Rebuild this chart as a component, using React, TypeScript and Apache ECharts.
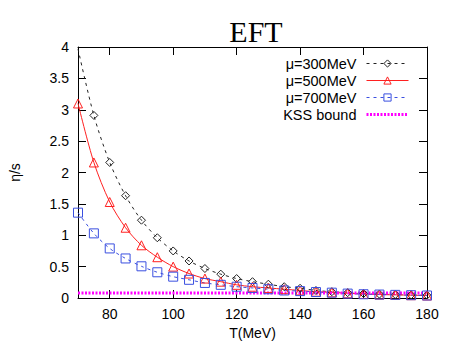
import React, { useEffect, useRef } from "react";
import * as echarts from "echarts";

const temps = [70, 75, 80, 85, 90, 95, 100, 105, 110, 115, 120, 125, 130, 135, 140, 145, 150, 155, 160, 165, 170, 175, 180];
const mu300 = [3.97, 2.91, 2.16, 1.63, 1.24, 0.96, 0.75, 0.59, 0.47, 0.38, 0.31, 0.26, 0.22, 0.18, 0.155, 0.12, 0.1, 0.085, 0.072, 0.062, 0.055, 0.05, 0.045];
const mu500 = [3.1, 2.16, 1.53, 1.12, 0.84, 0.65, 0.5, 0.39, 0.31, 0.26, 0.21, 0.18, 0.16, 0.14, 0.12, 0.1, 0.09, 0.075, 0.065, 0.055, 0.05, 0.045, 0.04];
const mu700 = [1.36, 1.03, 0.79, 0.63, 0.505, 0.41, 0.34, 0.29, 0.24, 0.21, 0.18, 0.16, 0.14, 0.12, 0.11, 0.095, 0.085, 0.07, 0.06, 0.055, 0.05, 0.045, 0.04];
const kssValue = 0.0796;
const kssRange = [70, 180];
const xTicks = [80, 100, 120, 140, 160, 180];
const seriesNames = ["μ=300MeV", "μ=500MeV", "μ=700MeV", "KSS bound"];

const FONT = "Liberation Sans, Arial, sans-serif";

export default function App() {
  const ref = useRef<HTMLDivElement>(null);
  useEffect(() => {
    if (!ref.current) return;
    const chart = echarts.init(ref.current, null, { renderer: "svg" });
    const tickCommon = { show: true, inside: true, length: 8, lineStyle: { color: "#000", width: 1 } };
    const xBase = {
      type: "value",
      min: 70,
      max: 180,
      splitLine: { show: false },
      axisLine: { show: true, onZero: false, lineStyle: { color: "#000", width: 1 } },
    };
    const yBase = {
      type: "value",
      min: 0,
      max: 4,
      interval: 0.5,
      splitLine: { show: false },
      axisLine: { show: true, onZero: false, lineStyle: { color: "#000", width: 1 } },
    };
    const mk = (vals: number[]) =>
      temps.map((t, i) => (vals === mu300 && i === 0 ? { value: [t, vals[i]], symbol: "none" } : [t, vals[i]]));
    const hollow = (c: string) => ({ color: "rgba(255,255,255,0)", borderColor: c, borderWidth: 1 });
    chart.setOption({
      animation: false,
      title: {
        text: "EFT",
        left: 251,
        top: 11,
        textAlign: "center",
        textStyle: { fontFamily: "Liberation Serif, Times New Roman, serif", fontSize: 30, fontWeight: "normal", color: "#000" },
      },
      grid: { left: 75, right: 25, top: 47, bottom: 51, containLabel: false },
      legend: {
        data: [
          { name: seriesNames[0], lineStyle: { width: 1 }, itemStyle: { borderWidth: 1 } },
          { name: seriesNames[1], lineStyle: { width: 1 }, itemStyle: { borderWidth: 1 } },
          { name: seriesNames[2], lineStyle: { width: 1 }, itemStyle: { borderWidth: 1 } },
          { name: seriesNames[3], lineStyle: { width: 3 } },
        ],
        orient: "vertical",
        right: 42,
        top: 56,
        padding: 0,
        align: "right",
        itemWidth: 42,
        itemHeight: 9,
        itemGap: 2,
        textStyle: { fontFamily: FONT, fontSize: 14.5, color: "#000", padding: [0, 5, 0, 0] },
      },
      xAxis: [
        {
          ...xBase,
          position: "bottom",
          name: "T(MeV)",
          nameLocation: "middle",
          nameGap: 27,
          nameTextStyle: { fontFamily: FONT, fontSize: 14, color: "#000" },
          axisTick: { ...tickCommon, customValues: xTicks },
          axisLabel: { customValues: xTicks, fontFamily: FONT, fontSize: 14, color: "#000", margin: 9 },
        },
        {
          ...xBase,
          position: "top",
          axisTick: { ...tickCommon, customValues: xTicks },
          axisLabel: { show: false },
        },
      ],
      yAxis: [
        {
          ...yBase,
          position: "left",
          name: "η/s",
          nameLocation: "middle",
          nameGap: 56,
          nameRotate: 90,
          nameTextStyle: { fontFamily: FONT, fontSize: 14, color: "#000" },
          axisTick: tickCommon,
          axisLabel: { fontFamily: FONT, fontSize: 14, color: "#000", margin: 9 },
        },
        {
          ...yBase,
          position: "right",
          axisTick: tickCommon,
          axisLabel: { show: false },
        },
      ],
      series: [
        {
          name: seriesNames[0],
          type: "line",
          data: mk(mu300),
          smooth: 0.3,
          symbol: "diamond",
          symbolSize: 8,
          lineStyle: { color: "#222", width: 1, type: [3, 4] },
          itemStyle: hollow("#222"),
        },
        {
          name: seriesNames[1],
          type: "line",
          data: mk(mu500),
          smooth: 0.3,
          symbol: "triangle",
          symbolSize: 9,
          lineStyle: { color: "#ff2020", width: 1, type: "solid" },
          itemStyle: hollow("#ff2020"),
        },
        {
          name: seriesNames[2],
          type: "line",
          data: mk(mu700),
          smooth: 0.3,
          symbol: "rect",
          symbolSize: 9,
          lineStyle: { color: "#3a4fe0", width: 1, type: [3, 4] },
          itemStyle: hollow("#3a4fe0"),
        },
        {
          name: seriesNames[3],
          type: "line",
          data: kssRange.map((t) => [t, kssValue]),
          symbol: "none",
          lineStyle: { color: "#ff00ff", width: 3, type: [2, 1.5] },
          itemStyle: { color: "rgba(0,0,0,0)" },
        },
      ],
    });
    return () => chart.dispose();
  }, []);
  return <div ref={ref} style={{ width: 452, height: 349, position: "absolute", left: 0, top: 0 }} />;
}
